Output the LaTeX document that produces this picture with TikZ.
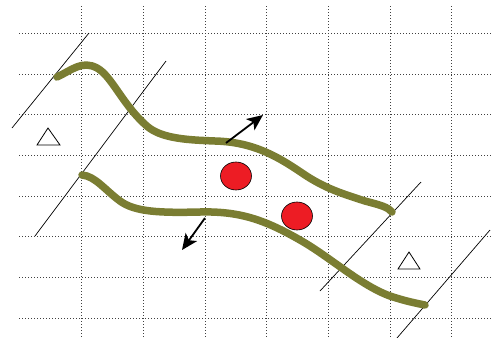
\documentclass[tikz,border=0pt]{standalone}
\usepackage{tikz}
\usetikzlibrary{arrows.meta, shapes.geometric}
\definecolor{olivebank}{RGB}{122,125,50}
\definecolor{grainred}{RGB}{237,28,36}

\begin{document}
\begin{tikzpicture}[x=1pt, y=-1pt,
    bank/.style={olivebank, line width=7.5pt, line cap=round},
    wall/.style={black, line width=0.7pt},
    grain/.style={ellipse, draw, line width=0.6pt, fill=grainred, minimum width=31pt, minimum height=28pt, inner sep=0pt},
    push/.style={-{Stealth[length=16pt, width=14pt, inset=4pt]}, line width=1.8pt}]
        \useasboundingbox (0,0) rectangle (491,338);
        % background grid
        \foreach \i in {0,...,6} \draw[black!75, line width=0.6pt, dash pattern=on 1pt off 2pt] (81.7+61.67*\i,6) -- (81.7+61.67*\i,338);
        \foreach \j in {0,...,7} \draw[black!75, line width=0.6pt, dash pattern=on 1pt off 2pt] (19,33.3+40.67*\j) -- (491,33.3+40.67*\j);
        % slanted walls
        \coordinate (w1a) at (12,128); \coordinate (w1b) at (89,33);
        \coordinate (w2a) at (35,236); \coordinate (w2b) at (166,61);
        \coordinate (w3a) at (320,291); \coordinate (w3b) at (421,182);
        \coordinate (w4a) at (397,338); \coordinate (w4b) at (490,230);
        \draw[wall] (w1a)--(w1b); \draw[wall] (w2a)--(w2b);
        \draw[wall] (w3a)--(w3b); \draw[wall] (w4a)--(w4b);
        % channel banks
        \draw[bank] (57,77) .. controls (72,70) and (82,60) .. (97,68)
            .. controls (112,76) and (123,106) .. (148,127)
            .. controls (163,139) and (190,140) .. (215,141)
            .. controls (255,142) and (280,158) .. (305,175)
            .. controls (325,188) and (340,193) .. (365,201)
            .. controls (380,205) and (388,207) .. (392,212);
        \draw[bank] (82,175) .. controls (95,176) and (105,190) .. (120,201)
            .. controls (135,212) and (160,213) .. (200,212)
            .. controls (240,211) and (265,220) .. (300,240)
            .. controls (330,257) and (360,285) .. (390,296)
            .. controls (405,301) and (415,303) .. (425,305);
        % particles
        \node[grain] (g1) at (236,176) {};
        \node[grain] (g2) at (297,216) {};
        % markers
        \draw[line width=0.8pt] (37,145)--(48,128)--(60,145)--cycle;
        \draw[line width=0.8pt] (398,269)--(409,252)--(420,269)--cycle;
        % push directions
        \coordinate (u0) at (226,143); \coordinate (u1) at (263,115);
        \coordinate (d0) at (205,218); \coordinate (d1) at (182,250);
        \draw[push] (u0)--(u1);
        \draw[push] (d0)--(d1);
      \end{tikzpicture}
\end{document}
